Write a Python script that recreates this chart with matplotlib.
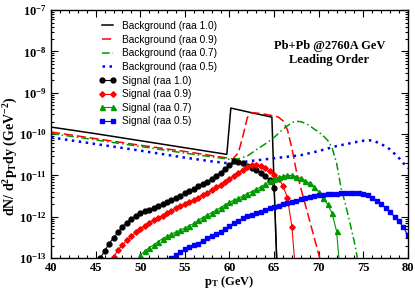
import numpy as np
import matplotlib
matplotlib.use("Agg")
import matplotlib.pyplot as plt
from matplotlib.ticker import MultipleLocator, LogLocator, NullFormatter

plt.rcParams['font.family'] = 'Liberation Serif'
plt.rcParams['mathtext.fontset'] = 'custom'
plt.rcParams['mathtext.rm'] = 'Liberation Serif:bold'
plt.rcParams['mathtext.it'] = 'Liberation Serif:bold'
plt.rcParams['mathtext.bf'] = 'Liberation Serif:bold'

# background spectra, log10 of dN/d2pT dy
bg10_pt = [40, 45, 50, 55, 59.7, 60.15, 62, 64.75, 65.3]
bg10_log = [-9.83, -9.99, -10.16, -10.33, -10.49, -9.37, -9.46, -9.59, -13.2]

bg09_pt = [40, 45, 50, 55, 60.4, 61.0, 61.5, 62.0, 62.5, 63.0, 64.0, 65.0, 65.5, 66.0,
           66.5, 67.0, 67.5, 68.0, 68.5, 69.0, 69.5, 70.0, 70.5]
bg09_log = [-9.95, -10.11, -10.27, -10.42, -10.60, -10.45, -10.05, -9.60, -9.48, -9.49,
            -9.52, -9.56, -9.59, -9.68, -9.90, -10.35, -10.90, -11.31, -11.71, -12.11,
            -12.51, -12.91, -13.3]

bg07_pt = [40, 45, 50, 55, 60, 61, 62, 63, 64, 65, 66, 67, 67.5, 68, 68.5, 69, 69.5,
           70, 70.5, 71, 71.5, 72, 72.5, 73, 73.5, 74, 74.5]
bg07_log = [-9.985, -10.14, -10.30, -10.46, -10.61, -10.60, -10.53, -10.38, -10.24,
            -10.08, -9.88, -9.72, -9.69, -9.70, -9.74, -9.80, -9.88, -9.95, -10.04,
            -10.15, -10.33, -10.70, -11.30, -11.70, -12.15, -12.62, -13.2]

bg05_pt = [40, 45, 50, 55, 58, 60, 61, 62, 64, 66, 68, 70, 72, 74, 75, 76, 77, 78, 79, 80]
bg05_log = [-10.08, -10.24, -10.40, -10.57, -10.66, -10.71, -10.71, -10.66, -10.61,
            -10.56, -10.51, -10.41, -10.29, -10.20, -10.16, -10.15, -10.24, -10.37,
            -10.58, -10.83]

# signal spectra (0.5 GeV bins)
sig10_pt = np.arange(45.5, 65.51, 0.5)
sig10_log = [-13.0, -12.83, -12.65, -12.51, -12.38, -12.24, -12.14, -12.05, -11.98,
             -11.92, -11.87, -11.83, -11.78, -11.74, -11.69, -11.65, -11.60, -11.55,
             -11.49, -11.43, -11.38, -11.32, -11.26, -11.21, -11.15, -11.09, -11.01,
             -10.93, -10.84, -10.75, -10.66, -10.68, -10.70, -10.76, -10.82, -10.88,
             -10.94, -11.02, -11.10, -11.30, -14.0]

sig09_pt = np.arange(47.0, 67.51, 0.5)
sig09_log = [-12.98, -12.81, -12.68, -12.57, -12.47, -12.38, -12.30, -12.22, -12.15,
             -12.09, -12.03, -11.97, -11.91, -11.86, -11.80, -11.75, -11.70, -11.65,
             -11.60, -11.54, -11.48, -11.42, -11.35, -11.29, -11.22, -11.15, -11.08,
             -11.01, -10.94, -10.86, -10.79, -10.74, -10.74, -10.78, -10.83, -10.90,
             -10.98, -11.08, -11.25, -11.55, -12.25, -13.6]

sig07_pt = np.arange(50.0, 72.51, 0.5)
sig07_log = [-12.93, -12.83, -12.75, -12.68, -12.60, -12.53, -12.47, -12.42, -12.37,
             -12.32, -12.27, -12.22, -12.16, -12.09, -12.02, -11.96, -11.90, -11.84,
             -11.78, -11.71, -11.65, -11.60, -11.55, -11.50, -11.44, -11.39, -11.33,
             -11.28, -11.21, -11.14, -11.09, -11.05, -11.02, -11.00, -11.00, -11.03,
             -11.07, -11.13, -11.19, -11.28, -11.40, -11.54, -11.70, -11.92, -12.35,
             -13.6]

sig05_pt = np.arange(53.5, 80.01, 0.5)
sig05_log = [-13.0, -12.92, -12.85, -12.79, -12.74, -12.69, -12.65, -12.58, -12.52,
             -12.47, -12.42, -12.36, -12.29, -12.22, -12.16, -12.10, -12.04, -11.99,
             -11.95, -11.92, -11.88, -11.84, -11.79, -11.76, -11.73, -11.70, -11.67,
             -11.64, -11.61, -11.58, -11.55, -11.53, -11.50, -11.48, -11.47, -11.45,
             -11.44, -11.44, -11.43, -11.43, -11.43, -11.43, -11.43, -11.45, -11.48,
             -11.54, -11.61, -11.69, -11.78, -11.89, -12.00, -12.11, -12.26, -12.45]

fig = plt.figure(figsize=(4.15, 2.89), dpi=100)
ax = fig.add_axes([0.123, 0.107, 0.860, 0.858])

ax.plot(bg10_pt, 10**np.array(bg10_log), color='black', lw=1.1,
        label='Background (raa 1.0)')
ax.plot(bg09_pt, 10**np.array(bg09_log), color='red', lw=1.1, dashes=(6, 2.5),
        label='Background (raa 0.9)')
ax.plot(bg07_pt, 10**np.array(bg07_log), color='#009900', lw=1.1,
        dashes=(5, 2, 1, 2), label='Background (raa 0.7)')
ax.plot(bg05_pt, 10**np.array(bg05_log), color='blue', lw=1.8, dashes=(1, 1.8),
        label='Background (raa 0.5)')

ax.plot(sig10_pt, 10**np.array(sig10_log), color='black', lw=0.8, marker='o', ms=3.5,
        label='Signal (raa 1.0)')
ax.plot(sig09_pt, 10**np.array(sig09_log), color='red', lw=0.8, marker='D', ms=2.8,
        label='Signal (raa 0.9)')
ax.plot(sig07_pt, 10**np.array(sig07_log), color='#009900', lw=0.8, marker='^', ms=3.6,
        label='Signal (raa 0.7)')
ax.plot(sig05_pt, 10**np.array(sig05_log), color='blue', lw=0.8, marker='s', ms=3.0,
        label='Signal (raa 0.5)')

ax.set_yscale('log')
ax.set_xlim(40, 80)
ax.set_ylim(1e-13, 1e-7)

ax.xaxis.set_major_locator(MultipleLocator(5))
ax.xaxis.set_minor_locator(MultipleLocator(1))
ax.yaxis.set_minor_locator(LogLocator(base=10, subs=np.arange(2, 10), numticks=20))
ax.yaxis.set_minor_formatter(NullFormatter())

ax.set_yticks([1e-13, 1e-12, 1e-11, 1e-10, 1e-9, 1e-8, 1e-7])
ax.set_yticklabels([r'$10^{%d}$' % e for e in range(-13, -6)], fontsize=9)
ax.set_xticks([40, 45, 50, 55, 60, 65, 70, 75, 80])
ax.set_xticklabels(['40', '45', '50', '55', '60', '65', '70', '75', '80'],
                   fontsize=9, fontweight='bold')

ax.tick_params(which='both', direction='in', top=True, right=True, width=0.8)
ax.tick_params(which='major', length=5, pad=3)
ax.tick_params(which='minor', length=2.5)
for s in ax.spines.values():
    s.set_linewidth(1.0)

ax.set_xlabel(r'p$_{T}$ (GeV)', fontsize=9, fontweight='bold', va='top')
ax.xaxis.set_label_coords(0.5, -0.066)
ax.set_ylabel(r'dN/ d$^{2}$p$_{T}$dy (GeV$^{-2}$)', fontsize=10, fontweight='bold')
ax.yaxis.set_label_coords(-0.087, 0.41)

ax.legend(loc='upper left', bbox_to_anchor=(0.114, 0.985), frameon=False,
          prop={'family': 'Liberation Sans', 'size': 7.3}, handlelength=1.7,
          labelspacing=0.36, handletextpad=0.55, numpoints=2, borderpad=0.2)

ax.text(0.78, 0.827, 'Pb+Pb @2760A GeV\nLeading Order', transform=ax.transAxes,
        ha='center', va='center', fontsize=9, fontweight='bold', linespacing=1.25)

fig.savefig('out.png', dpi=100)
